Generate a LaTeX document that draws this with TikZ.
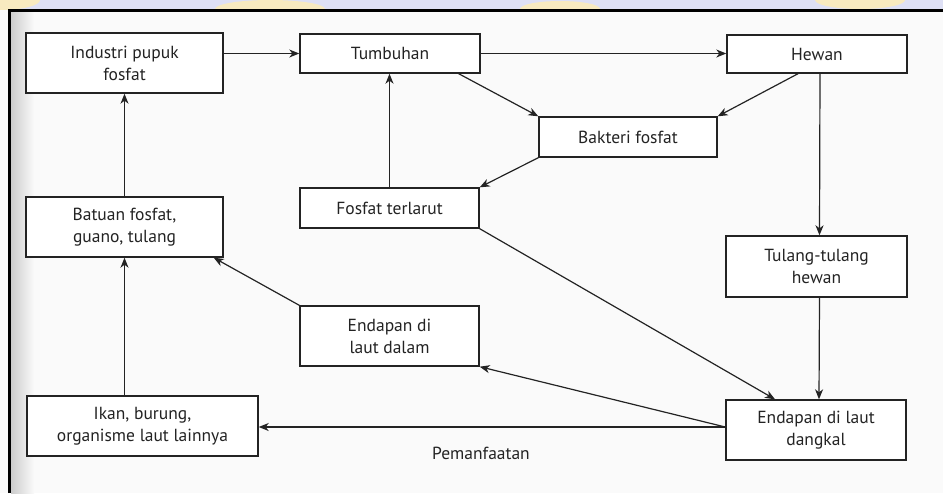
\documentclass[tikz,border=0pt]{standalone}
\usepackage{fontspec}
\setmainfont{PT Sans}
\usetikzlibrary{arrows.meta,calc}
\definecolor{ink}{HTML}{232323}
\definecolor{paper}{HTML}{FAFAFA}
\definecolor{band}{RGB}{222,224,245}
\definecolor{bandgold}{RGB}{248,234,192}
\tikzset{
  lbl/.style={text=ink, font=\fontsize{17.5}{22}\selectfont},
  box/.style={lbl, draw=ink, line width=1.4pt, fill=white, inner sep=0pt, align=center},
  flow/.style={draw=ink, line width=1.2pt, -{Stealth[length=10pt,width=8pt,inset=3pt]}},
}
\begin{document}
\begin{tikzpicture}[x=1pt,y=-1pt]
  % page and frame
  \fill[paper] (0,0) rectangle (943,493);
  \useasboundingbox (0,0) rectangle (943,493);
  \fill[band] (0,0) rectangle (943,9);
  \begin{scope}
    \clip (0,0) rectangle (943,9);
    \fill[bandgold] (0,0) ellipse (40 and 10);
    \fill[bandgold] (270,9) ellipse (55 and 9);
    \fill[bandgold] (560,9) ellipse (40 and 8);
    \fill[bandgold] (860,0) ellipse (45 and 9);
  \end{scope}
  \shade[left color=black!20, right color=paper] (11,12) rectangle (34,493);
  \draw[black, line width=3pt] (9.5,493) -- (9.5,10.5) -- (943,10.5);

  % boxes
  \node[box, minimum width=197pt, minimum height=60pt] (ind) at (124.5,63)  {Industri pupuk\\fosfat};
  \node[box, minimum width=180pt, minimum height=39pt] (tum) at (390,53.5)  {Tumbuhan};
  \node[box, minimum width=180pt, minimum height=38pt] (hew) at (817,54)    {Hewan};
  \node[box, minimum width=178pt, minimum height=40pt] (bak) at (628,137)   {Bakteri fosfat};
  \node[box, minimum width=179pt, minimum height=40pt] (fos) at (389.5,208) {Fosfat terlarut};
  \node[box, minimum width=197pt, minimum height=60pt] (bat) at (124.5,227) {Batuan fosfat,\\guano, tulang};
  \node[box, minimum width=181pt, minimum height=61pt] (tul) at (816.5,266.5) {Tulang-tulang\\hewan};
  \node[box, minimum width=179pt, minimum height=60pt] (dal) at (389.5,336) {Endapan di\\laut dalam};
  \node[box, minimum width=231pt, minimum height=60pt] (ikn) at (142.5,426) {Ikan, burung,\\organisme laut lainnya};
  \node[box, minimum width=180pt, minimum height=60pt] (dan) at (816,430)   {Endapan di laut\\dangkal};
  \node[lbl] (pem) at (481,453) {Pemanfaatan};

  % connectors
  \coordinate (dout) at ([yshift=3pt]dan.west);
  \draw[flow] (ind.east |- tum.west) -- (tum.west);
  \draw[flow] (tum.east) -- (tum.east -| hew.west);
  \draw[flow] ([xshift=-22pt]tum.south east) -- (bak.north west);
  \draw[flow] ([xshift=-19pt]hew.south) -- (bak.north east);
  \draw[flow] (bak.south west) -- (fos.north east);
  \draw[flow] (fos.north) -- (fos.north |- tum.south);
  \draw[flow] ([xshift=3pt]hew.south) -- ([xshift=3pt]tul.north);
  \draw[flow] ([xshift=3pt]tul.south) -- ([xshift=3pt]dan.north);
  \draw[flow] (fos.south east) -- ([xshift=-41pt]dan.north);
  \draw[flow] (dout) -- (dal.south east);
  \draw[flow] (dout) -- (dout -| ikn.east);
  \draw[flow] (dal.north west) -- ([xshift=-10pt]bat.south east);
  \draw[flow] (bat.south |- ikn.north) -- (bat.south);
  \draw[flow] (bat.north) -- (ind.south);
\end{tikzpicture}
\end{document}
